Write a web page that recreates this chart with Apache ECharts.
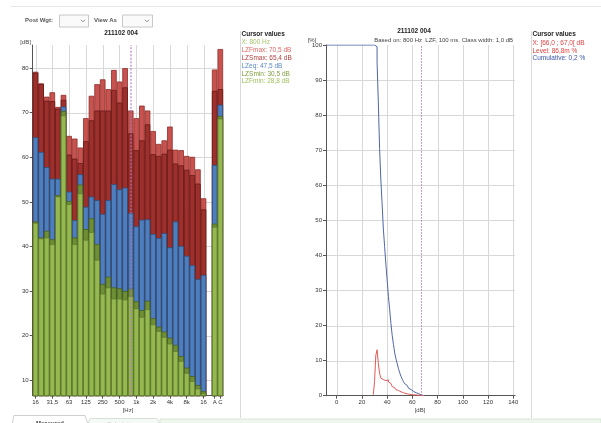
<!DOCTYPE html>
<html><head><meta charset="utf-8">
<script src="https://cdn.jsdelivr.net/npm/echarts@6/dist/echarts.min.js"></script>
<style>html,body{margin:0;padding:0;background:#fff}#c{width:601px;height:423px}</style>
</head><body><div id="c"></div>
<script>
// ---- Left chart: 1/3-octave spectrum (31 bands, gap, A, C)
const bands = ['16','20','25','31,5','40','50','63','80','100','125','160','200','250','315','400','500','630','800','1k','1,25k','1,6k','2k','2,5k','3,15k','4k','5k','6,3k','8k','10k','12,5k','16','','A','C'];
const lzfmax = [79.2,76.6,73.6,74.6,71.3,74.0,64.8,64.2,62.2,68.8,73.8,76.4,77.5,75.3,79.6,77.0,80.0,70.5,68.8,71.6,70.5,65.9,63.0,63.8,66.9,61.7,61.6,60.3,60.1,57.3,50.8,null,79.7,84.3];
const lzsmax = [79.0,76.4,72.7,72.6,70.9,72.9,60.6,59.7,58.7,63.6,68.3,70.5,70.5,70.5,75.1,72.3,75.7,65.4,61.6,63.8,67.4,60.7,60.3,60.8,61.7,58.6,58.2,57.2,56.0,54.1,48.3,null,74.9,75.3];
const lzeq   = [64.5,61.2,57.8,55.2,55.2,71.4,52.3,45.9,56.2,48.9,51.2,50.4,47.3,50.4,54.0,52.8,53.2,47.5,44.5,46.0,46.1,42.8,41.9,43.0,39.8,45.6,40.1,37.9,35.8,32.7,33.6,null,58.3,71.8];
const lzsmin = [45.6,42.0,43.5,41.6,51.5,70.4,50.2,42.0,53.9,43.9,46.3,40.5,31.6,33.2,30.8,30.6,30.0,30.5,27.7,25.7,27.8,23.9,22.0,20.9,19.5,17.9,15.4,12.8,10.9,8.9,7.5,null,45.1,69.3];
const lzfmin = [45.3,41.8,42.0,40.5,51.2,69.4,49.5,40.5,51.9,41.5,43.2,37.0,29.4,30.8,28.3,28.3,28.1,28.8,26.1,24.2,25.9,22.5,21.0,19.7,18.2,16.5,14.3,11.6,9.8,8.1,7.0,null,44.4,68.7];
const cursorBand = 17; // 800 Hz
const leftYTicks = [10,20,30,40,50,60,70,80];
const leftGridBands = [0,3,6,9,12,15,18,21,24,27,30];

// ---- Right chart: level distribution (class width 1 dB) and cumulative
const levelDb  = [29,30,31,32,33,34,35,36,37,38,39,40,41,42,43,44,45,46,47,48,49,50,51,52,53,54,55,56,57,58,59,60,61,62,63,64,65,66,67,68,69];
const levelPct = [0.3,4.0,11.5,13.1,9.2,6.4,5.0,4.6,4.4,4.3,4.3,4.5,3.9,3.5,3.0,2.6,2.3,2.0,1.7,1.5,1.3,1.1,1.0,0.85,0.7,0.6,0.5,0.45,0.4,0.35,0.3,0.25,0.2,0.2,0.15,0.12,0.1,0.087,0.05,0.02,0];
const cumDb  = [-8.5,30,31,32,33,34,35,36,37,38,39,40,41,42,43,44,45,46,47,48,49,50,51,52,53,54,55,56,57,58,59,60,61,62,63,64,65,66,67,68,69];
const cumPct = [100,99.5,99.5,95.2,83.8,70.5,61.5,54.8,47.5,42.5,37.5,33.0,28.3,24.5,20.6,17.2,14.6,12.2,10.5,9.1,7.7,6.5,5.5,4.7,4.0,3.4,2.9,2.5,2.1,1.75,1.45,1.2,1.0,0.85,0.7,0.55,0.4,0.25,0.12,0.04,0];
const cursorDb = 67;
const xTicksRight = [0,20,40,60,80,100,120,140];
const rightYTicks = [10,20,30,40,50,60,70,80,90];

const FONT = '"Liberation Sans", Arial, sans-serif';
const GRID = '#d8d8d8';
const fmt = v => v.toFixed(1).replace('.', ',');
const labelIdx = (i) => (i <= 30 && i % 3 === 0) || i >= 32;

function barSeries(name, data, color, border, extra) {
  return Object.assign({
    type: 'bar', name, xAxisIndex: 0, yAxisIndex: 0, data,
    barGap: '-100%', barCategoryGap: '0%', silent: true, z: 3,
    itemStyle: { color, borderColor: border, borderWidth: 0.8 }
  }, extra || {});
}

function txt(text, x, y, opts) {
  opts = opts || {};
  return { type: 'text', x, y, silent: true, z: 100, style: {
    text, fill: opts.fill || '#222', fontSize: opts.size || 6.5, fontFamily: FONT,
    fontWeight: opts.bold ? 'bold' : 'normal', align: opts.align || 'left', verticalAlign: 'middle' } };
}
function line(x1, y1, x2, y2, color, w, z) {
  return { type: 'line', silent: true, z: z === undefined ? 90 : z, shape: { x1, y1, x2, y2 }, style: { stroke: color, lineWidth: w || 1 } };
}

const graphics = [
  line(11, 6.5, 601, 6.5, '#e6e6e6'),
  txt('Post Wgt:', 25, 20.7, { fill: '#555', bold: true, size: 6 }),
  { type: 'rect', silent: true, shape: { x: 59.5, y: 15, width: 29, height: 12 }, style: { fill: '#fafafa', stroke: '#c8c8c8' } },
  { type: 'polyline', silent: true, shape: { points: [[81, 19.8], [83, 21.8], [85, 19.8]] }, style: { stroke: '#888', fill: null } },
  txt('View As', 94, 20.7, { fill: '#555', bold: true, size: 6 }),
  { type: 'rect', silent: true, shape: { x: 122.5, y: 15, width: 30, height: 12 }, style: { fill: '#fafafa', stroke: '#c8c8c8' } },
  { type: 'polyline', silent: true, shape: { points: [[145, 19.8], [147, 21.8], [149, 19.8]] }, style: { stroke: '#888', fill: null } },
  // left chart texts
  txt('211102 004', 121, 33.7, { bold: true, align: 'center' }),
  txt('[dB]', 25.5, 42.3, { align: 'center', size: 6, fill: '#444' }),
  txt('[Hz]', 128, 410.5, { align: 'center', size: 6, fill: '#444' }),
  line(240.5, 31, 240.5, 418, '#d9d9d9'),
  txt('Cursor values', 241.5, 34.3, { bold: true }),
  txt('X: ' + bands[cursorBand] + ' Hz', 241.5, 42.2, { fill: '#a6c46c' }),
  txt('LZFmax: ' + fmt(lzfmax[cursorBand]) + ' dB', 241.5, 50.1, { fill: '#dd6864' }),
  txt('LZSmax: ' + fmt(lzsmax[cursorBand]) + ' dB', 241.5, 58.0, { fill: '#b0413d' }),
  txt('LZeq: ' + fmt(lzeq[cursorBand]) + ' dB', 241.5, 65.9, { fill: '#5a88c4' }),
  txt('LZSmin: ' + fmt(lzsmin[cursorBand]) + ' dB', 241.5, 73.8, { fill: '#7f9e3e' }),
  txt('LZFmin: ' + fmt(lzfmin[cursorBand]) + ' dB', 241.5, 81.7, { fill: '#9dbf5a' }),
  // right chart texts
  txt('211102 004', 414, 31.7, { bold: true, align: 'center' }),
  txt('Based on: 800 Hz  LZF, 100 ms. Class width: 1,0 dB', 513, 40.8, { align: 'right', fill: '#444', size: 6 }),
  txt('[%]', 312, 40, { align: 'center', size: 6, fill: '#444' }),
  txt('[dB]', 420, 410.7, { align: 'center', size: 6, fill: '#444' }),
  line(531.5, 31, 531.5, 418, '#d9d9d9'),
  txt('Cursor values', 532.5, 34.5, { bold: true }),
  txt('X: [66,0 ; 67,0[ dB', 532.5, 43.2, { fill: '#e03c3c' }),
  txt('Level: 86,8m %', 532.5, 50.8, { fill: '#e03c3c' }),
  txt('Cumulative: 0,2 %', 532.5, 58.4, { fill: '#3a55a5' }),
  // bottom tabs strip
  { type: 'rect', silent: true, shape: { x: 160, y: 419, width: 441, height: 6 }, style: { fill: '#eef6ee', stroke: '#d6e6d6' } },
  { type: 'polyline', silent: true, shape: { points: [[12, 424], [14, 415.5], [85, 415.5], [88, 424]] }, style: { stroke: '#cfcfcf', fill: '#ffffff' } },
  { type: 'polyline', silent: true, shape: { points: [[88, 424], [90, 418.5], [157, 418.5], [160, 424]] }, style: { stroke: '#d6e0d6', fill: '#f6faf6' } },
  txt('Measured', 36, 423.5, { bold: true, size: 6, fill: '#444' }),
  txt('Calculations', 107, 424, { size: 6, fill: '#b8c4b8' })
];

const axisLine = { show: true, onZero: false, lineStyle: { color: '#555' } };
const option = {
  animation: false,
  textStyle: { fontFamily: FONT },
  grid: [
    { left: 32.7, top: 45, width: 190.4, height: 350.7 },
    { left: 326, top: 45, width: 189, height: 350.7 }
  ],
  xAxis: [
    { type: 'category', gridIndex: 0, data: bands, boundaryGap: true, axisLine,
      axisTick: { show: true, interval: labelIdx, alignWithLabel: true, length: 3, lineStyle: { color: '#555' } },
      axisLabel: { interval: labelIdx, fontSize: 6, color: '#333', margin: 4 },
      splitLine: { show: false } },
    { type: 'value', gridIndex: 1, min: -8.5, max: 141.4, minInterval: 20, maxInterval: 20, axisLine,
      axisTick: { show: true, length: 3, lineStyle: { color: '#555' } },
      axisLabel: { fontSize: 6, color: '#333', margin: 4, showMinLabel: false, showMaxLabel: false,
        formatter: v => (xTicksRight.indexOf(v) >= 0 ? String(v) : '') },
      splitLine: { show: false } }
  ],
  yAxis: [
    { type: 'value', gridIndex: 0, min: 6.5, max: 85.2, minInterval: 10, maxInterval: 10, axisLine,
      axisTick: { show: true, length: 3, lineStyle: { color: '#555' } },
      axisLabel: { fontSize: 6, color: '#333', margin: 4, showMinLabel: false, showMaxLabel: false },
      splitLine: { show: false } },
    { type: 'value', gridIndex: 1, min: 0, max: 100, interval: 10, axisLine,
      axisTick: { show: true, length: 3, lineStyle: { color: '#555' } },
      axisLabel: { fontSize: 6, color: '#333', margin: 4 },
      splitLine: { show: false } }
  ],
  series: [
    barSeries('LZFmax', lzfmax, '#c8524e', '#8e2e2b'),
    barSeries('LZSmax', lzsmax, '#9d2f2c', '#6a1a18'),
    barSeries('LZeq', lzeq, '#4d7fbf', '#2c4f7e'),
    barSeries('LZSmin', lzsmin, '#6f8f35', '#485f1f'),
    barSeries('LZFmin', lzfmin, '#95b850', '#5f7a2c', {
      markLine: { silent: true, symbol: 'none', animation: false, label: { show: false },
        lineStyle: { color: 'rgba(175,120,190,0.75)', type: [2, 1.5], width: 1.5 },
        data: [{ xAxis: cursorBand }] } }),
    { type: 'line', name: 'Cumulative', xAxisIndex: 1, yAxisIndex: 1, step: 'end', showSymbol: false, silent: true, z: 3,
      data: cumDb.map((d, i) => [d, cumPct[i]]), lineStyle: { color: '#4e66a6', width: 1 },
      markLine: { silent: true, symbol: 'none', animation: false, label: { show: false },
        lineStyle: { color: 'rgba(175,110,180,0.9)', type: [1.5, 1.5], width: 1 },
        data: [{ xAxis: cursorDb }] } },
    { type: 'line', name: 'Level', xAxisIndex: 1, yAxisIndex: 1, step: 'end', showSymbol: false, silent: true, z: 3,
      data: levelDb.map((d, i) => [d, levelPct[i]]), lineStyle: { color: '#e05a58', width: 1 } }
  ],
  graphic: { elements: graphics }
};
const chart = echarts.init(document.getElementById('c'), null, { renderer: 'canvas', width: 601, height: 423 });
chart.setOption(option);

// grid lines placed through the axes' own scales
function gridLines(gridIndex, xVals, yVals, yRef, xRef) {
  const out = [];
  const rect = chart.getModel().getComponent('grid', gridIndex).coordinateSystem.getRect();
  yVals.forEach(v => {
    const y = Math.round(chart.convertToPixel({ gridIndex }, [xRef, v])[1]) + 0.5;
    out.push(line(rect.x, y, rect.x + rect.width, y, GRID, 1, 0));
  });
  xVals.forEach(v => {
    const x = Math.round(chart.convertToPixel({ gridIndex }, [v, yRef])[0]) + 0.5;
    out.push(line(x, rect.y, x, rect.y + rect.height, GRID, 1, 0));
  });
  return out;
}
const extra = gridLines(0, leftGridBands, leftYTicks, 40, 0).concat(gridLines(1, xTicksRight, rightYTicks, 50, 0));
chart.setOption({ graphic: { elements: graphics.concat(extra) } });
</script></body></html>
